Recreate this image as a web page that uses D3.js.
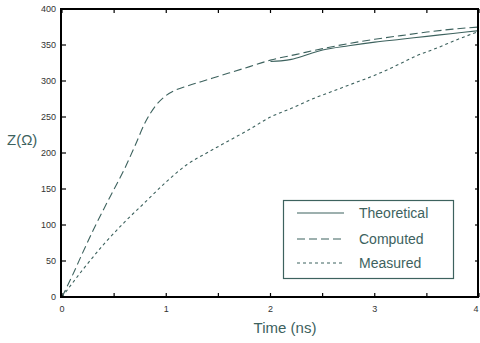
<!DOCTYPE html>
<html><head><meta charset="utf-8">
<script src="https://cdn.jsdelivr.net/npm/d3@7"></script>
<style>html,body{margin:0;padding:0;background:#fff;}svg{display:block;}</style>
</head><body>
<svg id="c" width="480" height="343"></svg>
<script>
const computedT = [0,0.1,0.2,0.3,0.4,0.5,0.6,0.7,0.8,0.9,1.0,1.1,1.2,1.4,1.6,1.8,2.0,2.25,2.5,2.75,3.0,3.25,3.5,3.75,4.0];
const computedZ = [0,30,62,93,122,150,178,210,243,266,280,288,293,302,311,320,329,337,345,352,358,363,368,372,375];
const measuredT = [0,0.2,0.4,0.6,0.8,1.0,1.2,1.4,1.6,1.8,2.0,2.2,2.4,2.6,2.8,3.0,3.2,3.4,3.6,3.8,4.0];
const measuredZ = [0,38,73,104,132,160,184,201,217,233,250,262,275,286,297,308,321,335,346,358,369];
const theoryT = [2.0,2.1,2.2,2.3,2.4,2.5,2.75,3.0,3.25,3.5,3.75,4.0];
const theoryZ = [327,328,330,334,339,343,349,354,358,362,366,370];
const xTicks = [0,1,2,3,4];
const xMinor = [0.5,1.5,2.5,3.5];
const yTicks = [0,50,100,150,200,250,300,350,400];
const legendLabels = ["Theoretical","Computed","Measured"];

const col = "#3d625e";
const svg = d3.select("#c");
const x = d3.scaleLinear().domain([0,4]).range([62,479]);
const y = d3.scaleLinear().domain([0,400]).range([297,9]);

const line = d3.line().x(d=>x(d[0])).y(d=>y(d[1])).curve(d3.curveMonotoneX);
const zip = (a,b)=>a.map((v,i)=>[v,b[i]]);

const series = [
  {data: zip(theoryT, theoryZ), dash: null},
  {data: zip(computedT, computedZ), dash: "8,4"},
  {data: zip(measuredT, measuredZ), dash: "3,3"}
];
series.forEach(s=>{
  svg.append("path").attr("d", line(s.data)).attr("fill","none")
    .attr("stroke",col).attr("stroke-width",1.1)
    .attr("stroke-dasharray", s.dash);
});

// frame
svg.append("rect").attr("x",x(0)-1).attr("y",y(400)).attr("width",x(4)-x(0)).attr("height",y(0)-y(400))
  .attr("fill","none").attr("stroke","#000").attr("stroke-width",2);

// ticks
const tickG = svg.append("g").attr("stroke","#000").attr("stroke-width",1.2);
xTicks.concat(xMinor).forEach(t=>{
  tickG.append("line").attr("x1",x(t)).attr("x2",x(t)).attr("y1",y(0)).attr("y2",y(0)-4);
  tickG.append("line").attr("x1",x(t)).attr("x2",x(t)).attr("y1",y(400)).attr("y2",y(400)+4);
});
yTicks.forEach(v=>{
  tickG.append("line").attr("x1",x(0)-1).attr("x2",x(0)+4).attr("y1",y(v)).attr("y2",y(v));
  tickG.append("line").attr("x1",x(4)).attr("x2",x(4)-4).attr("y1",y(v)).attr("y2",y(v));
});

// tick labels
const ff = "Liberation Sans, Arial, sans-serif";
svg.append("g").selectAll("text").data(yTicks).join("text")
  .attr("x",56).attr("y",d=>y(d)).attr("dy","0.35em").attr("text-anchor","end")
  .attr("font-family",ff).attr("font-size",9).attr("fill","#333").text(d=>d);
svg.append("g").selectAll("text").data(xTicks).join("text")
  .attr("x",d=>Math.min(x(d), 476)).attr("y",309).attr("dy","0.35em").attr("text-anchor","middle")
  .attr("font-family",ff).attr("font-size",9).attr("fill","#333").text(d=>d);

// axis titles
svg.append("text").attr("x",7).attr("y",145).attr("font-family",ff).attr("font-size",15)
  .attr("fill",col).text("Z(Ω)");
svg.append("text").attr("x",285).attr("y",333).attr("text-anchor","middle").attr("font-family",ff)
  .attr("font-size",15).attr("fill",col).text("Time (ns)");

// legend
const lg = svg.append("g");
lg.append("rect").attr("x",283.5).attr("y",200.5).attr("width",170).attr("height",78)
  .attr("fill","#fff").attr("stroke",col).attr("stroke-width",1.2);
const ly = [213,239,263];
legendLabels.forEach((lab,i)=>{
  lg.append("line").attr("x1",297).attr("x2",344).attr("y1",ly[i]).attr("y2",ly[i])
    .attr("stroke",col).attr("stroke-width",1.1).attr("stroke-dasharray",series[i].dash);
  lg.append("text").attr("x",359).attr("y",ly[i]).attr("dy","0.35em").attr("font-family",ff)
    .attr("font-size",14).attr("fill",col).text(lab);
});
</script>
</body></html>
